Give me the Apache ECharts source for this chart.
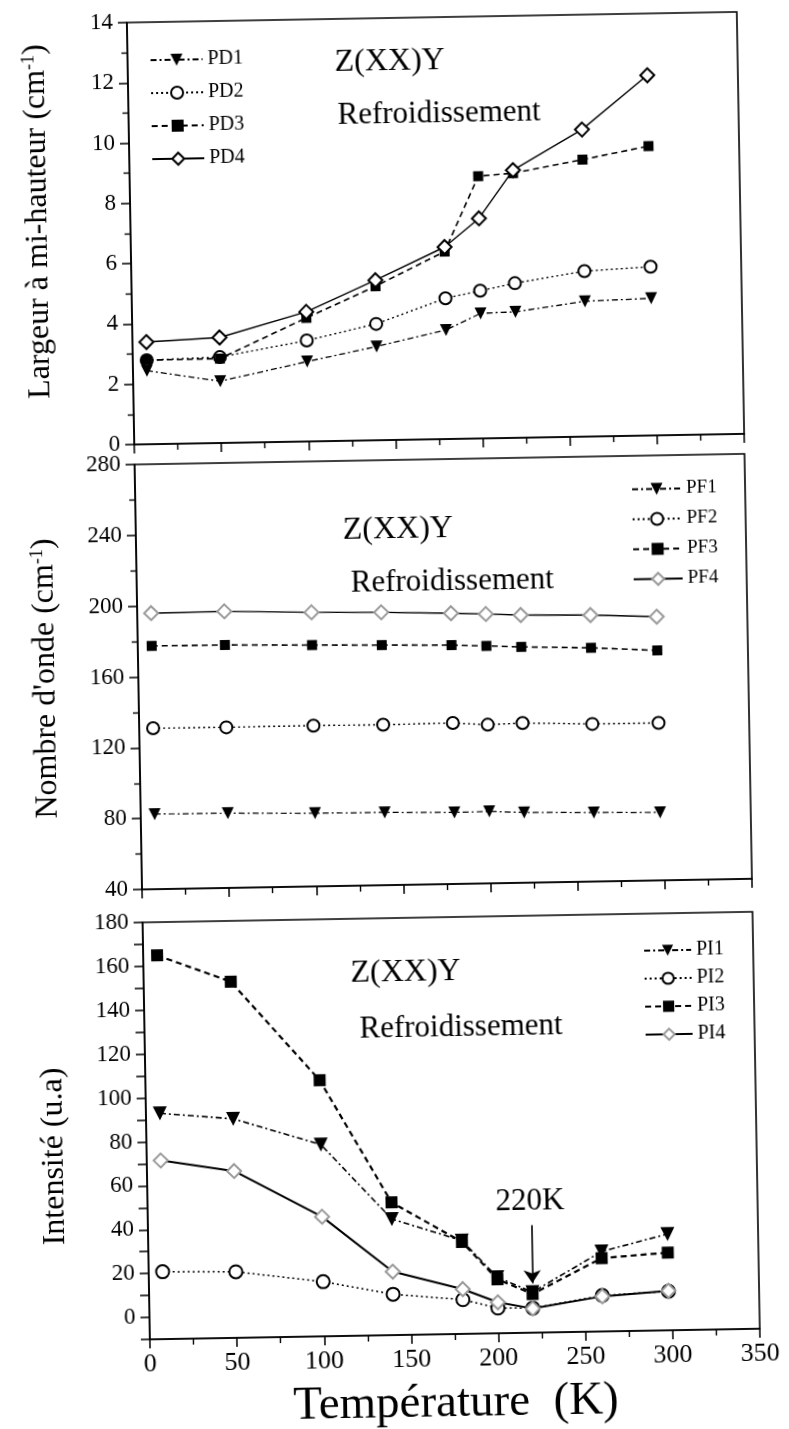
<!DOCTYPE html>
<html>
<head>
<meta charset="utf-8">
<title>Z(XX)Y Refroidissement</title>
<style>
  html, body { margin: 0; padding: 0; background: #fff; }
  /* the scanned figure is tilted by about one degree */
  #main { width: 789px; height: 1429px; transform: rotate(-1deg); }
</style>
</head>
<body>
<div id="main"></div>
<script src="https://cdn.jsdelivr.net/npm/echarts@6/dist/echarts.min.js"></script>
<script>
// temperatures (K)
var temps = [8, 50, 100, 140, 180, 200, 220, 260, 298];

// largeur a mi-hauteur (cm-1)
var PD1 = [2.44, 2.05, 2.65, 3.11, 3.62, 4.15, 4.18, 4.49, 4.55];
var PD2 = [2.79, 2.85, 3.35, 3.86, 4.67, 4.9, 5.13, 5.49, 5.6];
var PD3 = [2.79, 2.8, 4.1, 5.11, 6.22, 8.7, 8.78, 9.19, 9.6];
var PD4 = [3.39, 3.5, 4.3, 5.31, 6.37, 7.3, 8.88, 10.19, 11.95];

// nombre d'onde (cm-1)
var PF1 = [82.4, 82.2, 81.3, 81.1, 80.4, 80.6, 79.7, 79.0, 78.4];
var PF2 = [130.9, 130.7, 130.8, 130.6, 130.9, 129.6, 130.2, 129.0, 128.9];
var PF3 = [177.4, 177.2, 176.3, 175.6, 174.9, 174.1, 173.2, 172.0, 169.9];
var PF4 = [195.9, 196.2, 194.8, 194.1, 192.9, 192.1, 191.2, 190.5, 188.9];

// intensite (u.a)
var PI1 = [92.9, 89.8, 77.4, 42.9, 32.5, 15.5, 8.5, 26.4, 33.9];
var PI2 = [20.7, 20.1, 14.9, 8.6, 5.6, 1.5, 1.2, 6.4, 7.8];
var PI3 = [164.9, 152.3, 106.7, 50.5, 31.9, 14.6, 7.6, 23.4, 25.4];
var PI4 = [71.4, 66.0, 44.5, 18.9, 10.4, 4.1, 1.0, 6.0, 8.0];

var FONT = 'Liberation Serif';
var BLACK = '#000';

function pairs(vals) {
  return temps.map(function (t, i) { return [t, vals[i]]; });
}

var styles = {
  tri:  { symbol: 'triangle', rotate: 180, dash: [6, 3, 2, 3] },
  circ: { symbol: 'emptyCircle', rotate: 0, dash: [2, 3] },
  sq:   { symbol: 'rect', rotate: 0, dash: [6, 4] },
  dia:  { symbol: 'emptyDiamond', rotate: 0, dash: 'solid' }
};

function serie(name, vals, g, kind, size, width, markColor) {
  var s = styles[kind];
  return {
    name: name,
    type: 'line',
    xAxisIndex: g,
    yAxisIndex: g,
    data: pairs(vals),
    symbol: s.symbol,
    symbolRotate: s.rotate,
    symbolSize: size,
    showAllSymbol: true,
    lineStyle: { color: BLACK, width: width, type: s.dash },
    itemStyle: { color: markColor || BLACK, borderWidth: 1.2 },
    emphasis: { disabled: true },
    silent: true
  };
}

function xAx(g, labels) {
  return {
    type: 'value', gridIndex: g, min: 0, max: 350, interval: 50,
    axisLine: { show: true, onZero: false, lineStyle: { color: BLACK, width: 1.6 } },
    axisTick: { show: true, length: 9, lineStyle: { color: BLACK, width: 1.5 } },
    minorTick: { show: true, splitNumber: 2, length: 6, lineStyle: { color: BLACK, width: 1.4 } },
    splitLine: { show: false },
    axisLabel: { show: labels, margin: 12, fontFamily: FONT, fontSize: 26, color: BLACK },
    name: labels ? 'Température  (K)' : '',
    nameLocation: 'middle',
    nameGap: 46,
    nameTextStyle: { fontFamily: FONT, fontSize: 47, color: BLACK }
  };
}

function yAx(g, min, max, step, minor, name, pad, fmt) {
  return {
    type: 'value', gridIndex: g, min: min, max: max, interval: step,
    axisLine: { show: true, onZero: false, lineStyle: { color: BLACK, width: 1.6 } },
    axisTick: { show: true, length: 9, lineStyle: { color: BLACK, width: 1.5 } },
    minorTick: { show: minor, splitNumber: 2, length: 6, lineStyle: { color: BLACK, width: 1.4 } },
    splitLine: { show: false },
    axisLabel: { margin: 14, fontFamily: FONT, fontSize: 23, color: BLACK, formatter: fmt },
    name: name,
    nameLocation: 'middle',
    nameGap: 76,
    nameTextStyle: {
      fontFamily: FONT, fontSize: 32, color: BLACK, padding: pad,
      rich: { sup: { fontFamily: FONT, fontSize: 18, verticalAlign: 'top', lineHeight: 12 } }
    }
  };
}

function legend(names, left, top, w, h, gap, fs) {
  return {
    orient: 'vertical', left: left, top: top,
    itemWidth: w, itemHeight: h, itemGap: gap,
    selectedMode: false,
    textStyle: { fontFamily: FONT, fontSize: fs, color: BLACK, lineHeight: h },
    data: names
  };
}

function label(text, x, y, fs) {
  return {
    type: 'text', x: x, y: y, silent: true,
    style: { text: text, fontFamily: FONT, fontSize: fs, fill: BLACK, textVerticalAlign: 'middle' }
  };
}

var gridBox = { show: true, borderColor: BLACK, borderWidth: 1.6, left: 139, width: 610 };

var pi3 = serie('PI3', PI3, 2, 'sq', 12, 2.2);
pi3.markLine = {
  silent: true,
  symbol: ['none', 'arrow'],
  symbolSize: 13,
  label: { show: false },
  lineStyle: { color: BLACK, width: 1.6, type: 'solid' },
  data: [[{ coord: [220, 39] }, { coord: [220, 12.5] }]]
};

var option = {
  animation: false,
  backgroundColor: '#fff',
  grid: [
    Object.assign({ top: 18, height: 422 }, gridBox),
    Object.assign({ top: 460, height: 425 }, gridBox),
    Object.assign({ top: 918, height: 421 }, gridBox)
  ],
  xAxis: [xAx(0, false), xAx(1, false), xAx(2, true)],
  yAxis: [
    yAx(0, 0, 14, 2, true, 'Largeur à mi-hauteur (cm{sup|-1})', [0, 0, 0, 27]),
    yAx(1, 40, 280, 40, true, "Nombre d'onde (cm{sup|-1})", 0),
    yAx(2, -10, 180, 10, false, 'Intensité (u.a)', [0, 48, 0, 0], function (v) {
      return (v >= 0 && v % 20 === 0) ? String(v) : '';
    })
  ],
  legend: [
    legend(['PD1', 'PD2', 'PD3', 'PD4'], 156, 41, 52, 15, 13, 20),
    legend(['PF1', 'PF2', 'PF3', 'PF4'], 630, 479, 49, 15, 11, 19),
    legend(['PI1', 'PI2', 'PI3', 'PI4'], 634, 940, 47, 14, 8, 20)
  ],
  graphic: [
    label('Z(XX)Y', 346, 62, 32),
    label('Refroidissement', 348, 115, 31),
    label('Z(XX)Y', 346, 530, 32),
    label('Refroidissement', 353, 583, 31),
    label('Z(XX)Y', 346, 973, 32),
    label('Refroidissement', 354, 1029, 31),
    label('220K', 487, 1204, 31)
  ],
  series: [
    serie('PD1', PD1, 0, 'tri', 12, 1.3),
    serie('PD2', PD2, 0, 'circ', 12, 1.4),
    serie('PD3', PD3, 0, 'sq', 10, 1.6),
    serie('PD4', PD4, 0, 'dia', 14, 1.4),

    serie('PF1', PF1, 1, 'tri', 12, 1.2),
    serie('PF2', PF2, 1, 'circ', 12, 1.4),
    serie('PF3', PF3, 1, 'sq', 10, 1.6),
    serie('PF4', PF4, 1, 'dia', 14, 1.4, '#9a9a9a'),

    serie('PI1', PI1, 2, 'tri', 14, 1.6),
    serie('PI2', PI2, 2, 'circ', 13, 1.5),
    pi3,
    serie('PI4', PI4, 2, 'dia', 14, 2.0, '#9a9a9a')
  ]
};

var myChart = echarts.init(document.getElementById('main'));
myChart.setOption(option);
</script>
</body>
</html>
